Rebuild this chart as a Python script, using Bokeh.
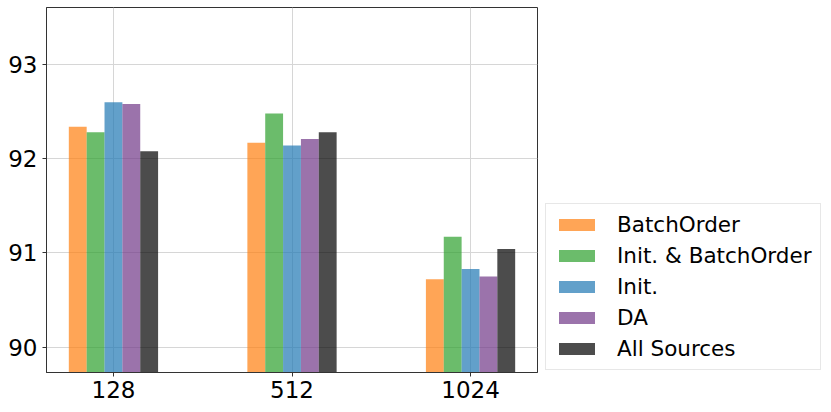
from bokeh.plotting import figure
from bokeh.models import Range1d, FixedTicker, Legend, LegendItem, ColumnDataSource
from bokeh.embed import file_html
from bokeh.resources import INLINE

batch_sizes = ["128", "512", "1024"]
series_names = ["BatchOrder", "Init. & BatchOrder", "Init.", "DA", "All Sources"]
batch_order = [92.34, 92.17, 90.72]
init_batch_order = [92.28, 92.48, 91.17]
init_only = [92.60, 92.14, 90.83]
da = [92.58, 92.21, 90.75]
all_sources = [92.08, 92.28, 91.04]
series_values = [batch_order, init_batch_order, init_only, da, all_sources]
colors = ["#ff7f0e", "#2ca02c", "#1f77b4", "#703788", "#000000"]

FONT = "DejaVu Sans"

p = figure(output_backend="svg", toolbar_location=None,
           x_range=Range1d(-0.375, 2.375), y_range=Range1d(89.73, 93.605),
           min_border_left=46, min_border_right=0, min_border_top=7, min_border_bottom=34)
p.frame_width = 491
p.frame_height = 365

n = len(series_names)
bar_w = 0.1
items = []
for i, (name, vals, col) in enumerate(zip(series_names, series_values, colors)):
    off = (i - (n - 1) / 2) * bar_w
    src = ColumnDataSource(dict(x=[k + off for k in range(len(batch_sizes))], top=vals,
                                bottom=[80.0] * len(vals)))
    r = p.vbar(x="x", top="top", bottom="bottom", width=bar_w, source=src,
               fill_color=col, fill_alpha=0.7, line_color=None)
    items.append(LegendItem(label=name, renderers=[r]))

p.xaxis.ticker = FixedTicker(ticks=list(range(len(batch_sizes))))
p.xaxis.major_label_overrides = {k: lab for k, lab in enumerate(batch_sizes)}
p.yaxis.ticker = FixedTicker(ticks=[90, 91, 92, 93])
p.xgrid.ticker = FixedTicker(ticks=list(range(len(batch_sizes))))
p.ygrid.ticker = FixedTicker(ticks=[90, 91, 92, 93])

for ax in (p.xaxis, p.yaxis):
    ax.axis_line_color = "#333333"
    ax.major_tick_line_color = "#333333"
    ax.major_tick_out = 4
    ax.major_tick_in = 0
    ax.minor_tick_line_color = None
    ax.major_label_text_font = FONT
    ax.major_label_text_font_size = "23px"
    ax.major_label_text_color = "black"
p.xaxis.major_label_standoff = 4
p.yaxis.major_label_standoff = 5

p.grid.grid_line_color = "#d6d6d6"
p.grid.grid_line_width = 1
p.outline_line_color = "#333333"
p.outline_line_width = 1

legend = Legend(items=items, location=(8, 2))
legend.label_text_font = FONT
legend.label_text_font_size = "21.5px"
legend.label_text_color = "black"
legend.glyph_width = 45
legend.glyph_height = 15
legend.label_height = 24
legend.label_standoff = 18
legend.spacing = 6
legend.padding = 8
legend.margin = 0
legend.border_line_color = "#d0d0d0"
legend.border_line_width = 1
legend.background_fill_alpha = 1.0
p.add_layout(legend, "right")

open("out.html", "w").write(file_html(p, INLINE))
